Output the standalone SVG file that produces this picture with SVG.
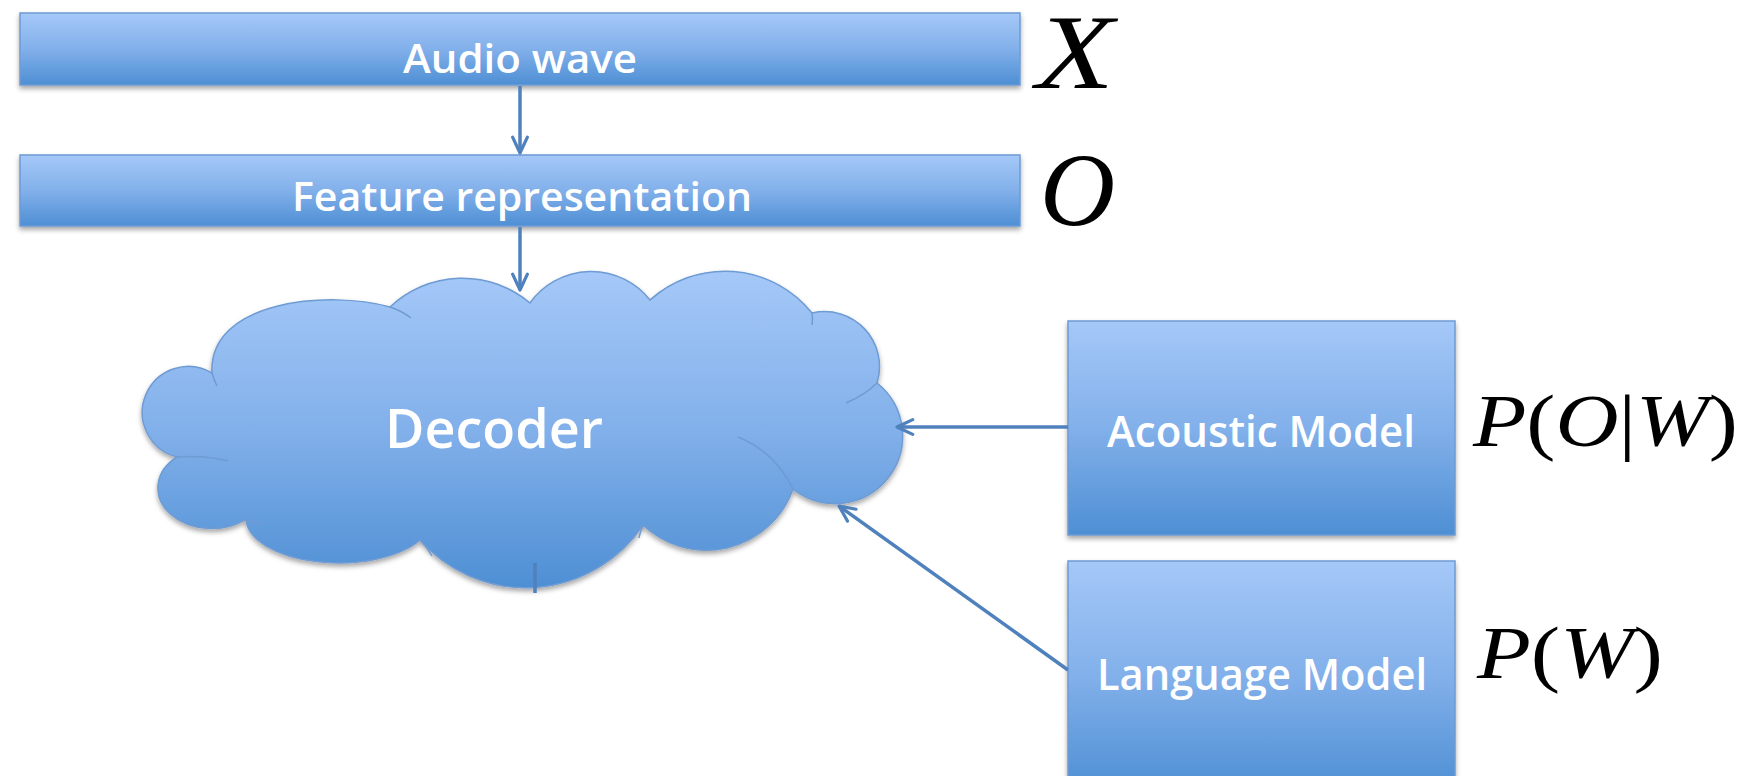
<svg xmlns="http://www.w3.org/2000/svg" width="1746" height="776" viewBox="0 0 1746 776">
<defs>
<linearGradient id="blue" x1="0" y1="0" x2="0" y2="1">
<stop offset="0" stop-color="#a5c8f8"/>
<stop offset="0.5" stop-color="#82b0ea"/>
<stop offset="1" stop-color="#4e8fd4"/>
</linearGradient>
<filter id="shadow" x="-5%" y="-10%" width="110%" height="130%">
<feDropShadow dx="0" dy="3" stdDeviation="2.5" flood-color="#000" flood-opacity="0.35"/>
</filter>
<marker id="arr" viewBox="0 0 20 20" refX="18" refY="10" markerWidth="6" markerHeight="6" markerUnits="strokeWidth" orient="auto">
<path d="M3,3 L18,10 L3,17" fill="none" stroke="#4f81bd" stroke-width="3" stroke-linecap="round" stroke-linejoin="round"/>
</marker>
</defs>
<style>
.box{fill:url(#blue);stroke:#6e9bd3;stroke-width:1.5;filter:url(#shadow)}
.lbl{font-family:"Open Sans",Lato,"Liberation Sans",sans-serif;font-weight:600;fill:#fff;text-anchor:start}
.math{font-family:"Liberation Serif","DejaVu Serif",serif;fill:#000}
.it{font-style:italic}
.conn{stroke:#4f81bd;stroke-width:3.5;fill:none}
.inner{fill:none;stroke:#6e9bd3;stroke-width:1.5}
</style>

<g id="decoder">
<path class="box" d="M212,373 A46,46 0 1 0 177,457 A53,40 0 0 0 246,519 A93,45 0 0 0 420,540 A141,141 0 0 0 643,525 A92,92 0 0 0 793,489 A67,67 0 0 0 877,383 A55,55 0 0 0 812,313 A111.6,111.6 0 0 0 650,300 A75,75 0 0 0 530,303 A105,105 0 0 0 390,307 C330,290 208,300 212,373 Z"/>
<path class="inner" d="M177,457 Q205,455 228,461"/>
<path class="inner" d="M246,519 Q255,523 264,523"/>
<path class="inner" d="M420,540 Q427,547 432,556"/>
<path class="inner" d="M643,525 Q640,532 639,538"/>
<path class="inner" d="M738,437 Q775,452 793,489"/>
<path class="inner" d="M877,383 Q865,395 846,403"/>
<path class="inner" d="M390,307 Q402,311 411,318"/>
<path class="inner" d="M650,300 Q655,296 660,292"/>
<path class="inner" d="M812,313 Q813,319 812,325"/>
<path class="inner" d="M212,373 Q214,380 217,386"/>
<text class="lbl" x="385" y="448" font-size="54" textLength="218" lengthAdjust="spacingAndGlyphs">Decoder</text>
</g>

<g id="audio">
<rect class="box" x="20" y="13" width="1000" height="72"/>
<text class="lbl" x="403" y="73" font-size="39" textLength="234" lengthAdjust="spacingAndGlyphs">Audio wave</text>
</g>

<g id="feature">
<rect class="box" x="20" y="155" width="1000" height="71"/>
<text class="lbl" x="292" y="211" font-size="39" textLength="460" lengthAdjust="spacingAndGlyphs">Feature representation</text>
</g>

<g id="acoustic">
<rect class="box" x="1068" y="321" width="387" height="214"/>
<text class="lbl" x="1107" y="447" font-size="43" textLength="308" lengthAdjust="spacingAndGlyphs">Acoustic Model</text>
</g>

<g id="language">
<rect class="box" x="1068" y="561" width="387" height="230"/>
<text class="lbl" x="1097" y="690" font-size="43" textLength="330" lengthAdjust="spacingAndGlyphs">Language Model</text>
</g>

<g id="labels">
<text class="math it" x="1036" y="88" font-size="106" textLength="78" lengthAdjust="spacingAndGlyphs">X</text>
<text class="math it" x="1040" y="225" font-size="104">O</text>
<text class="math" x="1473" y="446" font-size="74" textLength="265" lengthAdjust="spacingAndGlyphs"><tspan class="it">P</tspan>(<tspan class="it">O</tspan>|<tspan class="it">W</tspan>)</text>
<text class="math" x="1477" y="678" font-size="74" textLength="186" lengthAdjust="spacingAndGlyphs"><tspan class="it">P</tspan>(<tspan class="it">W</tspan>)</text>
</g>

<g id="connectors">
<line class="conn" x1="520" y1="86" x2="520" y2="153" marker-end="url(#arr)"/>
<line class="conn" x1="520" y1="227" x2="520" y2="290" marker-end="url(#arr)"/>
<line class="conn" x1="1068" y1="427" x2="897" y2="427" marker-end="url(#arr)"/>
<line class="conn" x1="1068" y1="670" x2="839" y2="506" marker-end="url(#arr)"/>
<line class="conn" x1="535" y1="563" x2="535" y2="593"/>
</g>
</svg>
